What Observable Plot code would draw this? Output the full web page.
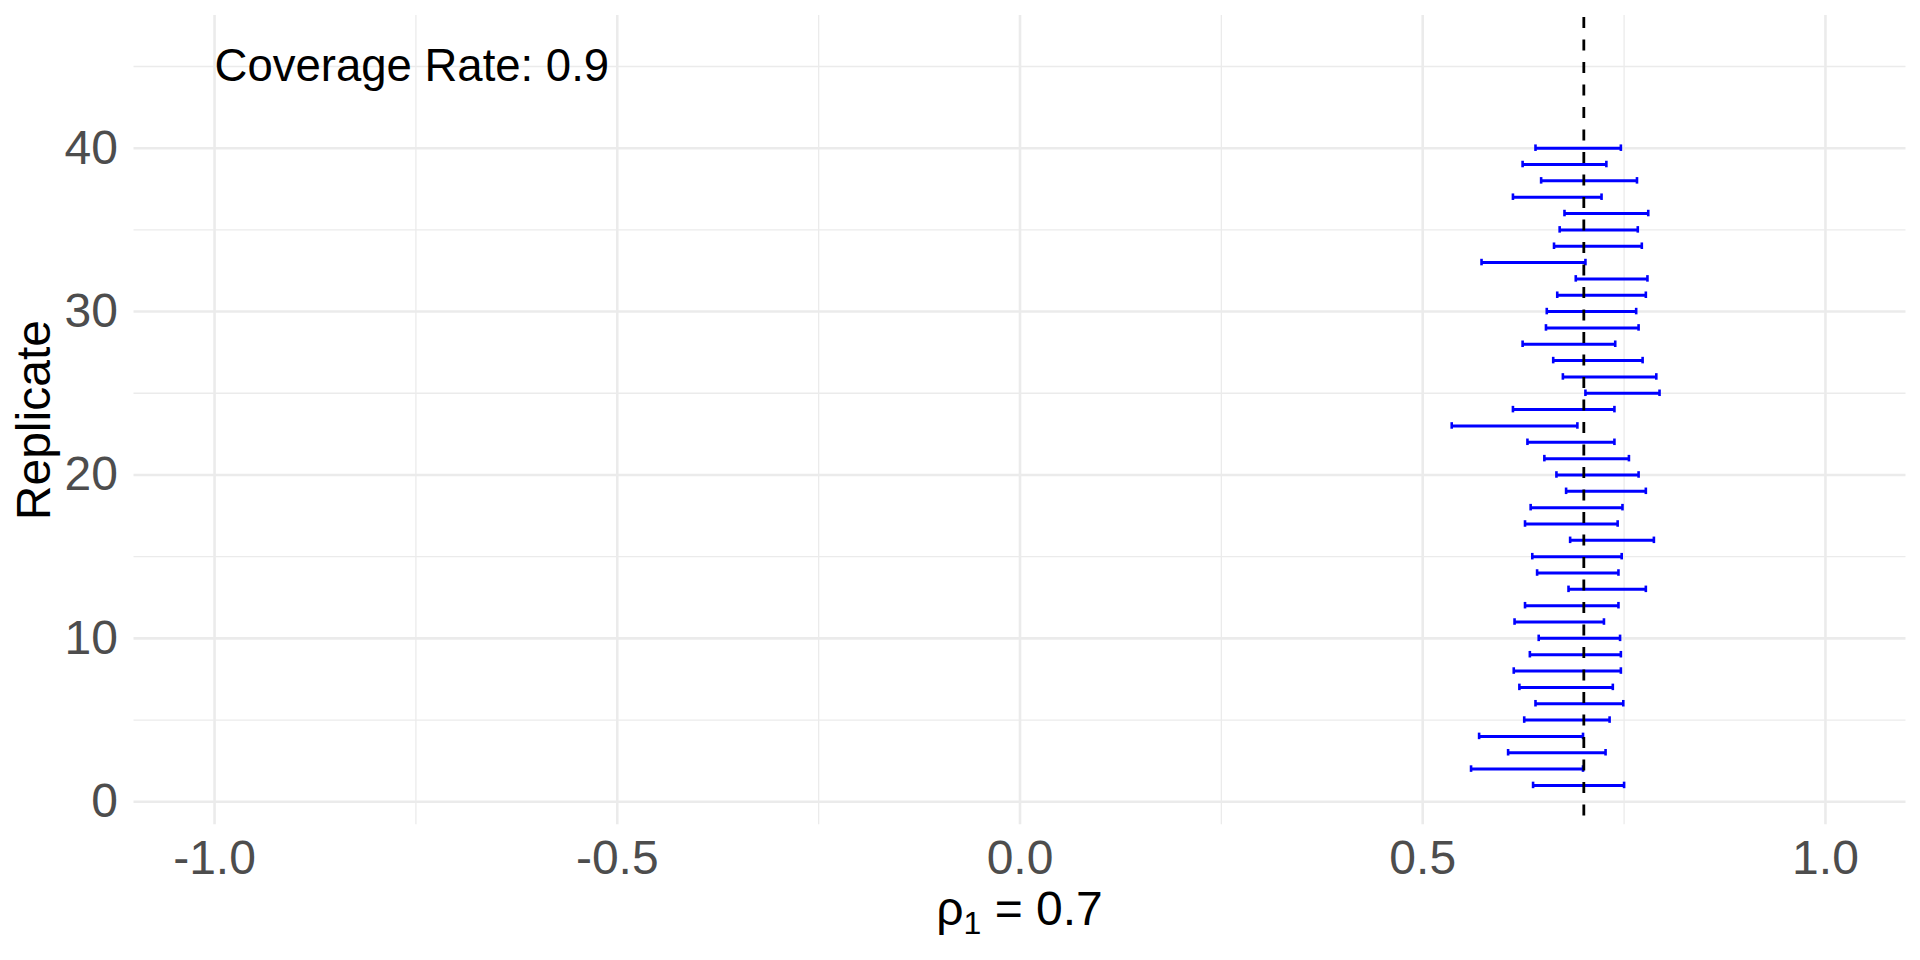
<!DOCTYPE html>
<html>
<head>
<meta charset="utf-8">
<script src="https://cdn.jsdelivr.net/npm/d3@7"></script>
<script src="https://cdn.jsdelivr.net/npm/@observablehq/plot@0.6"></script>
<style>
  html, body { margin: 0; padding: 0; background: #ffffff; }
  #chart svg { display: block; }
</style>
</head>
<body>
<div id="chart"></div>
<script>
// ---- Data ----
const replicate = [1,2,3,4,5,6,7,8,9,10,11,12,13,14,15,16,17,18,19,20,
                   21,22,23,24,25,26,27,28,29,30,31,32,33,34,35,36,37,38,39,40];
const lower = [0.637,0.560,0.606,0.570,0.626,0.640,0.620,0.613,0.633,0.644,
               0.614,0.627,0.681,0.642,0.636,0.683,0.627,0.634,0.678,0.666,
               0.651,0.630,0.536,0.612,0.702,0.674,0.662,0.624,0.653,0.654,
               0.667,0.690,0.573,0.663,0.670,0.676,0.612,0.647,0.624,0.640];
const upper = [0.750,0.699,0.727,0.699,0.732,0.749,0.736,0.746,0.746,0.745,
               0.725,0.743,0.777,0.743,0.747,0.787,0.742,0.748,0.777,0.768,
               0.756,0.738,0.692,0.738,0.794,0.790,0.773,0.739,0.768,0.765,
               0.777,0.779,0.702,0.772,0.767,0.780,0.722,0.766,0.728,0.746];
const trueValue = 0.7;
const coverageLabel = "Coverage Rate: 0.9";
const xMajorTicks = [-1.0, -0.5, 0.0, 0.5, 1.0];
const xMinorTicks = [-0.75, -0.25, 0.25, 0.75];
const yMajorTicks = [0, 10, 20, 30, 40];
const yMinorTicks = [5, 15, 25, 35, 45];
const yTitle = "Replicate";

// ---- Table built from the arrays ----
const intervals = replicate.map((r, i) => ({rep: r, lo: lower[i], hi: upper[i]}));
const capHalf = 0.2;
const blue = "#0000FF";
const grid = "#EBEBEB";
const tickColor = "#4D4D4D";

const chart = Plot.plot({
  width: 1920,
  height: 960,
  marginLeft: 133.5,
  marginRight: 14.5,
  marginTop: 15,
  marginBottom: 135.7,
  style: {fontFamily: "'Liberation Sans', Arial, sans-serif", background: "#ffffff", color: "#000000"},
  x: {domain: [-1.1, 1.1]},
  y: {domain: [-1.41, 48.12]},
  marks: [
    Plot.gridX(xMinorTicks, {stroke: grid, strokeOpacity: 1, strokeWidth: 1.3}),
    Plot.gridY(yMinorTicks, {stroke: grid, strokeOpacity: 1, strokeWidth: 1.3}),
    Plot.gridX(xMajorTicks, {stroke: grid, strokeOpacity: 1, strokeWidth: 2.6}),
    Plot.gridY(yMajorTicks, {stroke: grid, strokeOpacity: 1, strokeWidth: 2.6}),
    Plot.axisX(xMajorTicks, {tickSize: 0, tickPadding: 15, fontSize: 48, fill: tickColor,
      tickFormat: d => d.toFixed(1), label: null}),
    Plot.axisY(yMajorTicks, {tickSize: 0, tickPadding: 16, fontSize: 48, fill: tickColor,
      tickFormat: d => String(d), label: null}),
    Plot.ruleY(intervals, {y: "rep", x1: "lo", x2: "hi", stroke: blue, strokeWidth: 3}),
    Plot.ruleX(intervals, {x: "lo", y1: d => d.rep - capHalf, y2: d => d.rep + capHalf, stroke: blue, strokeWidth: 2.6}),
    Plot.ruleX(intervals, {x: "hi", y1: d => d.rep - capHalf, y2: d => d.rep + capHalf, stroke: blue, strokeWidth: 2.6}),
    Plot.ruleX([trueValue], {stroke: "#000000", strokeWidth: 2.8, strokeDasharray: "11,11.5", strokeDashoffset: -2}),
    Plot.text([coverageLabel], {x: -1, y: 45, text: d => d, textAnchor: "start", fontSize: 45.5, fill: "#000000"}),
    Plot.text([yTitle], {frameAnchor: "left", dx: -99, rotate: -90, textAnchor: "middle", fontSize: 48, fill: "#000000", text: d => d})
  ]
});

document.getElementById("chart").appendChild(chart);

// x-axis title with a subscript: rho_1 = 0.7
const svg = d3.select(chart);
const xt = svg.append("text")
  .attr("x", 1019.5)
  .attr("y", 925)
  .attr("text-anchor", "middle")
  .attr("font-size", 48)
  .attr("fill", "#000000")
  .attr("font-family", "'Liberation Sans', Arial, sans-serif");
xt.append("tspan").text("\u03C1");
xt.append("tspan").attr("font-size", 32).attr("dy", 9).text("1");
xt.append("tspan").attr("dy", -9).text(" = " + trueValue.toFixed(1));
</script>
</body>
</html>
